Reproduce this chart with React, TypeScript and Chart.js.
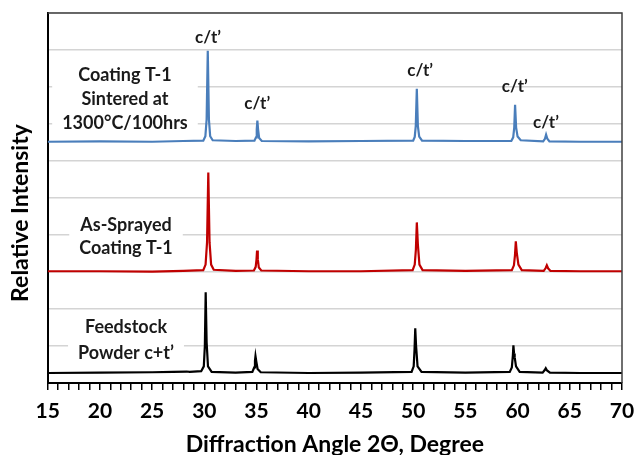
import React, { useEffect, useRef } from "react";
import { Chart, registerables } from "chart.js";

Chart.register(...registerables);

const FONT = "Lato, 'Open Sans', sans-serif";

// Diffraction angle (2θ) and relative intensity for each trace
const blueX = [15, 20, 25, 28, 29.9, 30.1, 30.22, 30.33, 30.44, 30.56, 30.8, 33, 34.8, 34.95, 35.02, 35.08, 35.15, 35.25, 35.5, 40, 45, 50.0, 50.15, 50.25, 50.35, 50.45, 50.58, 50.85, 55, 59.4, 59.58, 59.68, 59.76, 59.86, 60.0, 60.3, 62.45, 62.62, 62.73, 62.85, 63.05, 66, 70];
const blueY = [6.52, 6.53, 6.52, 6.54, 6.55, 6.67, 7.12, 8.98, 7.12, 6.67, 6.56, 6.54, 6.55, 6.64, 6.85, 7.09, 6.85, 6.62, 6.54, 6.53, 6.54, 6.55, 6.65, 6.95, 7.95, 6.95, 6.66, 6.55, 6.54, 6.54, 6.64, 6.9, 7.52, 6.9, 6.66, 6.56, 6.53, 6.6, 6.71, 6.6, 6.53, 6.52, 6.52];

const redX = [15, 20, 25, 28, 29.9, 30.12, 30.26, 30.38, 30.5, 30.65, 30.9, 33, 34.75, 34.92, 35.0, 35.05, 35.12, 35.22, 35.45, 40, 45, 49.95, 50.15, 50.26, 50.35, 50.45, 50.6, 50.9, 55, 59.45, 59.65, 59.75, 59.83, 59.93, 60.08, 60.4, 62.5, 62.68, 62.8, 62.92, 63.15, 66, 70];
const redY = [3.02, 3.02, 3.01, 3.03, 3.05, 3.2, 3.8, 5.69, 3.8, 3.2, 3.06, 3.03, 3.04, 3.14, 3.35, 3.58, 3.35, 3.12, 3.04, 3.02, 3.02, 3.05, 3.2, 3.6, 4.34, 3.75, 3.2, 3.05, 3.03, 3.05, 3.18, 3.45, 3.83, 3.5, 3.2, 3.05, 3.03, 3.1, 3.18, 3.1, 3.03, 3.02, 3.02];

const blackX = [15, 20, 25, 27, 28.3, 28.6, 29.7, 29.95, 30.05, 30.13, 30.22, 30.35, 30.7, 33, 34.6, 34.78, 34.85, 34.9, 34.98, 35.1, 35.4, 40, 45, 49.85, 50.05, 50.13, 50.2, 50.28, 50.42, 50.8, 55, 59.25, 59.45, 59.55, 59.6, 59.66, 59.72, 59.85, 60.2, 62.4, 62.6, 62.7, 62.82, 63.1, 66, 70];
const blackY = [0.27, 0.28, 0.29, 0.3, 0.31, 0.3, 0.32, 0.45, 1.0, 2.45, 1.1, 0.45, 0.3, 0.28, 0.3, 0.42, 0.6, 0.73, 0.58, 0.38, 0.29, 0.27, 0.28, 0.3, 0.45, 0.9, 1.48, 1.0, 0.45, 0.3, 0.28, 0.3, 0.42, 0.75, 1.02, 0.8, 0.7, 0.45, 0.3, 0.28, 0.35, 0.4, 0.34, 0.28, 0.27, 0.27];

// Peak labels (above the sintered trace)
const peakLabel = "c/t’";
const peakLabelX = [30.36, 35.06, 50.67, 59.73, 62.72];
const peakLabelY = [9.35, 7.55, 8.45, 8.0, 7.05];

// Sample labels
const blueLines = ["Coating T-1", "Sintered at", "1300°C/100hrs"];
const redLines = ["As-Sprayed", "Coating T-1"];
const blackLines = ["Feedstock", "Powder c+t’"];

const xTitle = "Diffraction Angle 2Θ, Degree";
const yTitle = "Relative Intensity";

const toPts = (xs: number[], ys: number[]) => xs.map((x, i) => ({ x, y: ys[i] }));

const blocks = [
  { lines: blueLines, x: 22.4, y: 8.33, gap: 24 },
  { lines: redLines, x: 22.5, y: 4.27, gap: 23 },
  { lines: blackLines, x: 22.5, y: 1.51, gap: 26 },
];

const annotPlugin = {
  id: "annot",
  beforeDatasetsDraw(chart: any) {
    const { ctx, scales } = chart;
    const x = scales.x, y = scales.y;
    ctx.save();
    ctx.font = `bold 18px ${FONT}`;
    ctx.textAlign = "center";
    ctx.textBaseline = "middle";
    for (const b of blocks) {
      const cx = x.getPixelForValue(b.x);
      const y0 = y.getPixelForValue(b.y);
      const w = Math.max(...b.lines.map((l) => ctx.measureText(l).width));
      const top = y0 - 11;
      const bottom = y0 + (b.lines.length - 1) * b.gap + 11;
      ctx.fillStyle = "#ffffff";
      ctx.fillRect(cx - w / 2 - 10, top, w + 20, bottom - top);
      ctx.fillStyle = "#1a1a1a";
      b.lines.forEach((l, i) => ctx.fillText(l, cx, y0 + i * b.gap));
    }
    ctx.restore();
  },
  afterDraw(chart: any) {
    const { ctx, chartArea, scales } = chart;
    const x = scales.x, y = scales.y;
    ctx.save();
    // frame top & right
    ctx.strokeStyle = "#404040";
    ctx.lineWidth = 1.5;
    ctx.beginPath();
    ctx.moveTo(chartArea.left, chartArea.top);
    ctx.lineTo(chartArea.right, chartArea.top);
    ctx.lineTo(chartArea.right, chartArea.bottom);
    ctx.stroke();
    // peak labels
    ctx.fillStyle = "#1a1a1a";
    ctx.font = `bold 17px ${FONT}`;
    ctx.textAlign = "center";
    ctx.textBaseline = "middle";
    peakLabelX.forEach((v, i) => {
      ctx.fillText(peakLabel, x.getPixelForValue(v), y.getPixelForValue(peakLabelY[i]));
    });
    // axis titles
    ctx.fillStyle = "#000";
    ctx.font = `bold 23px ${FONT}`;
    ctx.fillText(xTitle, (chartArea.left + chartArea.right) / 2, 445);
    ctx.translate(21, 213);
    ctx.rotate(-Math.PI / 2);
    ctx.fillText(yTitle, 0, 0);
    ctx.restore();
  },
};

export default function App() {
  const ref = useRef<HTMLCanvasElement | null>(null);
  useEffect(() => {
    if (!ref.current) return;
    const chart = new Chart(ref.current, {
      type: "line",
      data: {
        datasets: [
          { data: toPts(blueX, blueY), borderColor: "#4a7ebb", borderWidth: 2.2, pointRadius: 0, tension: 0 },
          { data: toPts(redX, redY), borderColor: "#c00000", borderWidth: 2.2, pointRadius: 0, tension: 0 },
          { data: toPts(blackX, blackY), borderColor: "#000000", borderWidth: 2.2, pointRadius: 0, tension: 0 },
        ],
      },
      options: {
        animation: false,
        responsive: false,
        layout: { padding: { top: 13, right: 12, left: 0, bottom: 0 } },
        plugins: { legend: { display: false }, tooltip: { enabled: false } },
        scales: {
          x: {
            type: "linear",
            min: 15,
            max: 70,
            ticks: {
              stepSize: 1,
              autoSkip: false,
              maxRotation: 0,
              padding: 9,
              color: "#000",
              font: { family: FONT, size: 21, weight: "bold" },
              callback: (v: any) => (Math.round(v) % 5 === 0 ? String(Math.round(v)) : ""),
            },
            grid: { drawOnChartArea: false, drawTicks: true, tickLength: 7, color: "#000", lineWidth: 1.5 },
            border: { color: "#000", width: 2 },
            afterFit: (s: any) => { s.height = 72; s.paddingLeft = 0; s.paddingRight = 0; },
          },
          y: {
            min: 0,
            max: 10,
            ticks: { display: false, stepSize: 1 },
            grid: { color: "#d4d4d4", lineWidth: 1.5, drawTicks: false },
            border: { color: "#000", width: 2 },
            afterFit: (s: any) => { s.width = 47.7; },
          },
        },
      } as any,
      plugins: [annotPlugin],
    });
    return () => chart.destroy();
  }, []);
  return (
    <canvas
      ref={ref}
      width={634}
      height={455}
      style={{ position: "absolute", left: 0, top: 0, width: 634, height: 455, display: "block" }}
    />
  );
}
